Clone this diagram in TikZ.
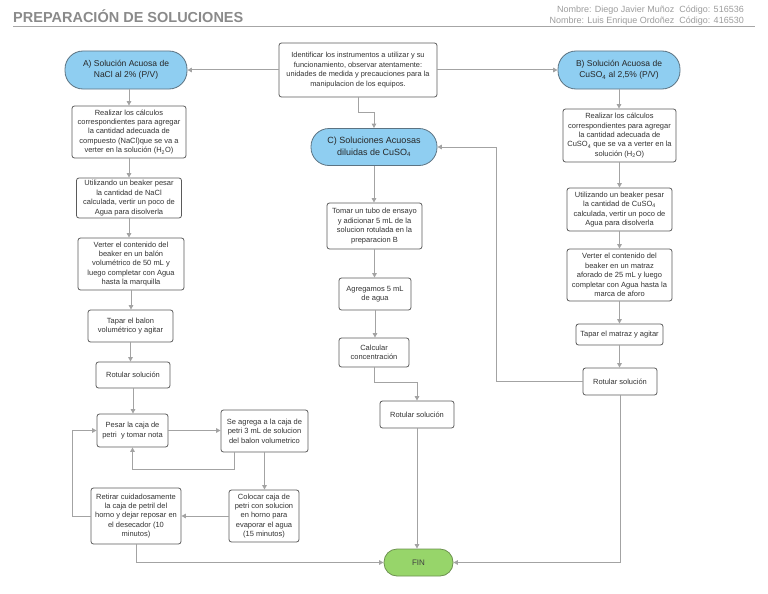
\documentclass[tikz,border=0pt]{standalone}
\usepackage{fontspec}
\setmainfont{Liberation Sans}
\usetikzlibrary{arrows.meta,calc}
\definecolor{boxc}{HTML}{5A5A5A}
\definecolor{linec}{HTML}{A3A3A3}
\definecolor{txt}{HTML}{333333}
\definecolor{bluef}{HTML}{8FCEF1}
\definecolor{blueb}{HTML}{5C7382}
\definecolor{greenf}{HTML}{97D56A}
\definecolor{greenb}{HTML}{6D9150}
\definecolor{headc}{HTML}{8A8A8A}
\definecolor{namec}{HTML}{9C9C9C}
\begin{document}
\begin{tikzpicture}[x=1pt,y=-1pt,
  box/.style={draw=boxc, line width=0.8pt, rounded corners=2.5pt, fill=white, align=center,
    font=\fontsize{7.5}{9.4}\selectfont, text=txt, inner sep=1pt},
  term/.style={draw=blueb, line width=0.8pt, rounded corners=18pt, fill=bluef, align=center,
    font=\fontsize{8.5}{11}\selectfont, text=black!85, inner sep=1pt},
  fin/.style={draw=greenb, line width=0.8pt, rounded corners=13pt, fill=greenf, align=center,
    font=\fontsize{8}{10}\selectfont, text=black!75, inner sep=1pt},
  conn/.style={draw=linec, line width=1pt, -{Triangle[length=4.5pt,width=4.5pt]}},
  hdr/.style={font=\fontsize{9}{11}\selectfont, text=namec, inner sep=0pt},
]
\useasboundingbox (0,0) rectangle (768,594);
% header
\node[anchor=base west, inner sep=0pt, text=headc, font=\fontsize{14.5}{16}\selectfont\bfseries] (title) at (13,23) {PREPARACIÓN DE SOLUCIONES};
\node[hdr, anchor=base east] (n1) at (744,12.5) {Nombre: Diego Javier Muñoz\ \ Código: 516536};
\node[hdr, anchor=base east] (n2) at (744,24) {Nombre: Luis Enrique Ordoñez\ \ Código: 416530};
\coordinate (hl1) at (13,26.5);
\coordinate (hl2) at (755,26.5);
\draw[draw=black!35, line width=1pt] (hl1) -- (hl2);

% top
\node[box, minimum width=158pt, minimum height=54pt, font=\fontsize{7.4}{9.6}\selectfont] (top) at (358,70)
  {Identificar los instrumentos a utilizar y su\\funcionamiento, observar atentamente:\\unidades de medida y precauciones para la\\manipulacion de los equipos.};
\node[term, minimum width=122pt, minimum height=38pt] (A) at (126,70) {A) Solución Acuosa de\\NaCl al 2\% (P/V)};
\node[term, minimum width=122pt, minimum height=38pt] (B) at (619,70) {B) Solución Acuosa de\\CuSO\textsubscript{4} al 2,5\% (P/V)};
\node[term, minimum width=126pt, minimum height=37pt, font=\fontsize{9}{11.5}\selectfont] (C) at (374,147) {C) Soluciones Acuosas\\diluidas de CuSO\textsubscript{4}};

% left column
\node[box, minimum width=114pt, minimum height=52pt] (A1) at (129,132)
  {Realizar los cálculos\\correspondientes para agregar\\la cantidad adecuada de\\compuesto (NaCl)que se va a\\verter en la solución (H\textsubscript{2}O)};
\node[box, minimum width=105pt, minimum height=40pt] (A2) at (129,198)
  {Utilizando un beaker pesar\\la cantidad de NaCl\\calculada, vertir un poco de\\Agua para disolverla};
\node[box, minimum width=106pt, minimum height=52pt] (A3) at (131,264)
  {Verter el contenido del\\beaker en un balón\\volumétrico de 50 mL y\\luego completar con Agua\\hasta la marquilla};
\node[box, minimum width=85pt, minimum height=32pt] (A4) at (130.5,326)
  {Tapar el balon\\volumétrico y agitar};
\node[box, minimum width=74pt, minimum height=26pt] (A5) at (133,375) {Rotular solución};
\node[box, minimum width=71pt, minimum height=33pt] (P) at (132.5,430.5) {Pesar la caja de\\petri\ \ y tomar nota};
\node[box, minimum width=87pt, minimum height=42pt] (S) at (264.5,431)
  {Se agrega a la caja de\\petri 3 mL de solucion\\del balon volumetrico};
\node[box, minimum width=70pt, minimum height=52pt] (K) at (264,516)
  {Colocar caja de\\petri con solucion\\en horno para\\evaporar el agua\\(15 minutos)};
\node[box, minimum width=90pt, minimum height=56pt] (R) at (136,516)
  {Retirar cuidadosamente\\la caja de petril del\\horno y dejar reposar en\\el desecador (10\\minutos)};

% middle column
\node[box, minimum width=95pt, minimum height=46pt] (C1) at (374.5,226)
  {Tomar un tubo de ensayo\\y adicionar 5 mL de la\\solucion rotulada en la\\preparacion B};
\node[box, minimum width=72pt, minimum height=32pt] (C2) at (375,294) {Agregamos 5 mL\\de agua};
\node[box, minimum width=70pt, minimum height=29pt] (C3) at (374,352.5) {Calcular\\concentración};
\node[box, minimum width=74pt, minimum height=27pt] (C4) at (417,414.5) {Rotular solución};

% right column
\node[box, minimum width=113pt, minimum height=53pt] (B1) at (619.5,135.5)
  {Realizar los cálculos\\correspondientes para agregar\\la cantidad adecuada de\\CuSO\textsubscript{4} que se va a verter en la\\solución (H\textsubscript{2}O)};
\node[box, minimum width=105pt, minimum height=43pt] (B2) at (619.5,209.5)
  {Utilizando un beaker pesar\\la cantidad de CuSO\textsubscript{4}\\calculada, vertir un poco de\\Agua para disolverla};
\node[box, minimum width=105pt, minimum height=52pt] (B3) at (619.5,275)
  {Verter el contenido del\\beaker en un matraz\\aforado de 25 mL y luego\\completar con Agua hasta la\\marca de aforo};
\node[box, minimum width=87pt, minimum height=21pt] (B4) at (619.5,334.5) {Tapar el matraz y agitar};
\node[box, minimum width=74pt, minimum height=27pt] (B5) at (620,381.5) {Rotular solución};

\node[fin, minimum width=69pt, minimum height=27pt] (F) at (418.5,562.5) {FIN};

% connectors
\draw[conn] (top.west) -- (A.east);
\draw[conn] (top.east) -- (B.west);
\draw[conn] (top.south) -- ++(0,15) -| (C.north);

\draw[conn] (A.south -| A1.north) -- (A1.north);
\draw[conn] (A1.south) -- (A1.south |- A2.north);
\draw[conn] (A2.south) -- (A2.south |- A3.north);
\draw[conn] (A3.south) -- (A3.south |- A4.north);
\draw[conn] (A4.south) -- (A4.south |- A5.north);
\draw[conn] (A5.south) -- (A5.south |- P.north);
\draw[conn] (P.east) -- (P.east -| S.west);
\draw[conn] ([xshift=14pt]S.south west) -- ++(0,17) -| (P.south);
\draw[conn] (S.south) -- (S.south |- K.north);
\draw[conn] (K.west) -- (K.west -| R.east);
\draw[conn] (R.west) -- ++(-18,0) |- (P.west);
\draw[conn] (R.south) |- (F.west);

\draw[conn] (C.south) -- (C.south |- C1.north);
\draw[conn] (C1.south) -- (C1.south |- C2.north);
\draw[conn] (C2.south) -- (C2.south |- C3.north);
\draw[conn] (C3.south) -- ++(0,15) -| (C4.north);
\draw[conn] (C4.south) -- (C4.south |- F.north);

\draw[conn] (B.south) -- (B.south |- B1.north);
\draw[conn] (B1.south) -- (B1.south |- B2.north);
\draw[conn] (B2.south) -- (B2.south |- B3.north);
\draw[conn] (B3.south) -- (B3.south |- B4.north);
\draw[conn] (B4.south) -- (B4.south |- B5.north);
\draw[conn] (B5.west) -- ++(-86,0) |- (C.east);
\draw[conn] (B5.south) |- (F.east);
\end{tikzpicture}
\end{document}
